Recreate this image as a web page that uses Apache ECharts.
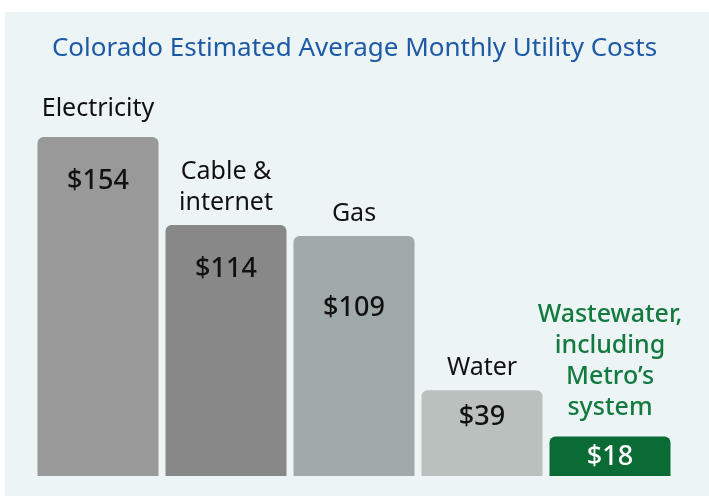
<!DOCTYPE html>
<html>
<head>
<meta charset="utf-8">
<style>
  html, body { margin: 0; padding: 0; background: #ffffff; }
  #chart { width: 709px; height: 496px; }
</style>
<script src="https://cdn.jsdelivr.net/npm/echarts@6/dist/echarts.min.js"></script>
</head>
<body>
<div id="chart"></div>
<script>
const categories = ["Electricity", "Cable &\ninternet", "Gas", "Water", "Wastewater,\nincluding\nMetro’s\nsystem"];
const costs = [154, 114, 109, 39, 18];
const barColors = ["#999999", "#888888", "#a0aaa9", "#b9c0be", "#0b6b35"];
// distance of the $ label below each bar top
const valueOffsets = [31, 31, 59, 14, 7];
// distance of the name label above each bar top
const nameOffsets = [13, 7, 7, 7, 13];

const chart = echarts.init(document.getElementById("chart"));
const font = "'Noto Sans', sans-serif";

const option = {
  animation: false,
  graphic: [
    {
      type: "rect",
      z: -10,
      shape: { x: 5, y: 12, width: 704, height: 484 },
      style: { fill: "#edf4f6" },
    },
  ],
  title: {
    text: "Colorado Estimated Average Monthly Utility Costs",
    left: "center",
    top: 31,
    textStyle: { color: "#1d5aa6", fontSize: 26, fontWeight: "normal", fontFamily: font },
  },
  grid: { left: 34, width: 640, top: 137, bottom: 20 },
  xAxis: {
    type: "category",
    data: categories,
    show: false,
  },
  yAxis: { type: "value", min: 0, max: 154, show: false },
  series: [
    {
      type: "bar",
      barWidth: 121,
      data: costs.map((v, i) => ({
        value: v,
        itemStyle: { color: barColors[i], borderRadius: [6, 6, 0, 0] },
        label: {
          distance: valueOffsets[i],
          color: i === 4 ? "#ffffff" : "#111111",
        },
      })),
      label: {
        show: true,
        position: "insideTop",
        formatter: (p) => "$" + p.value,
        fontSize: 27,
        fontWeight: 500,
        fontFamily: font,
      },
    },
    {
      type: "bar",
      barWidth: 121,
      barGap: "-100%",
      silent: true,
      itemStyle: { color: "rgba(0,0,0,0)" },
      data: costs.map((v, i) => ({
        value: v,
        label: {
          color: i === 4 ? "#127a3e" : "#111111",
          fontWeight: i === 4 ? 500 : "normal",
          distance: nameOffsets[i],
        },
      })),
      label: {
        show: true,
        position: "top",
        formatter: (p) => p.name,
        fontSize: 25,
        lineHeight: 31,
        fontFamily: font,
      },
    },
  ],
};
chart.setOption(option);
</script>
</body>
</html>
